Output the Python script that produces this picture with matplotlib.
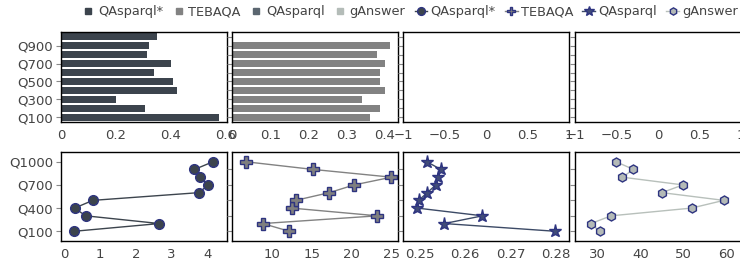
import numpy as np
import matplotlib
matplotlib.use('Agg')
import matplotlib.pyplot as plt
from matplotlib.lines import Line2D

plt.rcParams['font.family'] = ['DejaVu Sans']
plt.rcParams['font.size'] = 9.5

# categories (bottom to top)
queries = ['Q100', 'Q200', 'Q300', 'Q400', 'Q500', 'Q600', 'Q700', 'Q800', 'Q900', 'Q1000']

# top row: bar values
bar_qasparql_star = [0.575, 0.305, 0.200, 0.421, 0.409, 0.340, 0.402, 0.312, 0.320, 0.348]
bar_tebaqa = [0.362, 0.390, 0.341, 0.401, 0.390, 0.390, 0.401, 0.380, 0.416, np.nan]
bar_qasparql = []
bar_ganswer = []

# bottom row: line values
line_qasparql_star = [0.28, 2.66, 0.60, 0.29, 0.80, 3.77, 4.02, 3.79, 3.64, 4.16]
line_tebaqa = [12.2, 8.9, 23.2, 12.5, 13.0, 17.2, 20.3, 24.95, 15.2, 6.75]
line_qasparql = [0.2799, 0.2554, 0.2638, 0.2494, 0.2497, 0.2516, 0.2535, 0.2540, 0.2546, 0.2515]
line_ganswer = [30.4, 28.4, 33.1, 51.8, 59.3, 44.9, 49.8, 35.7, 38.3, 34.25]

names = ['QAsparql*', 'TEBAQA', 'QAsparql', 'gAnswer']
bar_colors = ['#3c444d', '#828282', '#5b6670', '#b4bcb8']
line_colors = ['#3c444d', '#828282', '#3c4a66', '#b8c0bb']
marker_fill = ['#3c444d', '#7f7f7f', '#414c78', '#b4bab7']
markers = ['o', 'P', '*', 'h']
msizes = [7, 8, 9.5, 6.5]
edge = '#2e3480'
txt = '#444444'

W, H = 740, 268
fig = plt.figure(figsize=(W / 100, H / 100), dpi=100)

lefts = [61, 232.3, 403.3, 575]
pw = 166
top_row = (32.3, 121.7)
bot_row = (152.3, 240.7)


def make_ax(left, row):
    t, b = row
    return fig.add_axes([left / W, (H - b) / H, pw / W, (b - t) / H])


y = np.arange(len(queries))

bars = [bar_qasparql_star, bar_tebaqa, bar_qasparql, bar_ganswer]
lines = [line_qasparql_star, line_tebaqa, line_qasparql, line_ganswer]
top_xlims = [(0, 0.604), (0, 0.437), (-1, 1), (-1, 1)]
top_xticks = [[0, 0.2, 0.4, 0.6], [0, 0.1, 0.2, 0.3, 0.4],
              [-1, -0.5, 0, 0.5, 1], [-1, -0.5, 0, 0.5, 1]]
bot_xlims = [(-0.09, 4.55), (5.1, 25.8), (0.2463, 0.283), (24.7, 63.3)]
bot_xticks = [[0, 1, 2, 3, 4], [10, 15, 20, 25], [0.25, 0.26, 0.27, 0.28], [30, 40, 50, 60]]


def style(ax):
    for s in ax.spines.values():
        s.set_color('black')
        s.set_linewidth(1)
    ax.tick_params(axis='x', length=0, pad=5, colors=txt, labelsize=9.5)
    ax.tick_params(axis='y', length=3.5, width=0.8, pad=2, colors='#888888',
                   labelcolor=txt, labelsize=9.5)


for i in range(4):
    ax = make_ax(lefts[i], top_row)
    if len(bars[i]):
        ax.barh(y, bars[i], height=0.8, color=bar_colors[i])
    ax.set_ylim(-0.5, len(queries) - 0.5)
    ax.set_xlim(*top_xlims[i])
    ax.set_xticks(top_xticks[i])
    ax.set_xticklabels([f'{v:g}'.replace('-', '\u2212') for v in top_xticks[i]])
    if i == 0:
        ax.set_yticks(y[::2])
        ax.set_yticklabels(queries[::2])
    else:
        ax.set_yticks(y)
        ax.set_yticklabels([])
    style(ax)

    ax = make_ax(lefts[i], bot_row)
    ax.plot(lines[i], y, color=line_colors[i], lw=1, marker=markers[i],
            ms=msizes[i], mfc=marker_fill[i], mec=edge, mew=1)
    ax.set_ylim(-1.22, len(queries) - 1 + 1.22)
    ax.set_xlim(*bot_xlims[i])
    ax.set_xticks(bot_xticks[i])
    ax.set_xticklabels([f'{v:g}' for v in bot_xticks[i]])
    if i == 0:
        ax.set_yticks(y[::3])
        ax.set_yticklabels(queries[::3])
    else:
        ax.set_yticks(y[::2])
        ax.set_yticklabels([])
    style(ax)

handles = []
for i in range(4):
    handles.append(Line2D([], [], ls='none', marker='s', ms=5, color=bar_colors[i]))
for i in range(4):
    handles.append(Line2D([], [], color=line_colors[i], lw=1, marker=markers[i],
                          ms=msizes[i] * 0.8, mfc=marker_fill[i], mec=edge, mew=1))
labels = names + names

fig.legend(handles, labels, loc='center', bbox_to_anchor=(410 / W, 1 - 12 / H),
           ncol=8, frameon=False, handlelength=1.0, handletextpad=0.25,
           columnspacing=0.7, borderaxespad=0, borderpad=0, labelcolor=txt,
           fontsize=9.3)

fig.savefig('out.png', dpi=100)
